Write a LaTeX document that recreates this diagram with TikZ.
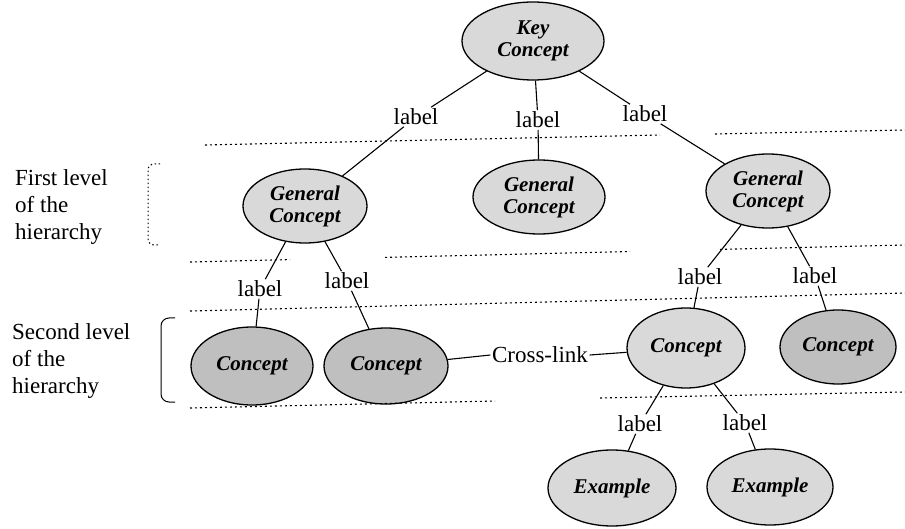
\documentclass[tikz,border=0pt]{standalone}
\usepackage{fontspec}
\setmainfont{Liberation Serif}
\usetikzlibrary{shapes.geometric}
\begin{document}
\begin{tikzpicture}[x=1pt,y=-1pt,
  concept/.style={ellipse,draw=black,line width=1.3pt,fill=gray!30,inner sep=0pt,align=center,font=\fontsize{21}{22}\selectfont\bfseries\itshape},
  darkc/.style={concept,fill=gray!50},
  lbl/.style={inner sep=1.5pt,font=\fontsize{23}{26}\selectfont},
  link/.style={line width=1.1pt},
  level/.style={dash pattern=on 2pt off 3pt,line width=1.1pt},
  side/.style={align=left,anchor=west,inner sep=0pt,font=\fontsize{23}{27}\selectfont}]
\useasboundingbox (0,0) rectangle (905,529);

% concept ellipses
\node[concept,minimum width=142,minimum height=78] (key) at (533,41) {Key\\Concept};
\node[concept,minimum width=124,minimum height=74] (g1) at (305,206) {General\\Concept};
\node[concept,minimum width=132,minimum height=74] (g2) at (539,197) {General\\Concept};
\node[concept,minimum width=124,minimum height=74] (g3) at (768,191) {General\\Concept};
\node[darkc,minimum width=122,minimum height=78] (c1) at (252,366) {Concept};
\node[darkc,minimum width=124,minimum height=76] (c2) at (386,366) {Concept};
\node[concept,minimum width=118,minimum height=80] (c3) at (686,348) {Concept};
\node[darkc,minimum width=116,minimum height=74] (c4) at (838,347) {Concept};
\node[concept,minimum width=128,minimum height=76] (e1) at (612,488) {Example};
\node[concept,minimum width=126,minimum height=76] (e2) at (770,487) {Example};

% link labels
\node[lbl] (l1) at (416,117) {label};
\node[lbl] (l2) at (538,120) {label};
\node[lbl] (l3) at (645,114) {label};
\node[lbl] (l4) at (260,289) {label};
\node[lbl] (l5) at (347,281) {label};
\node[lbl] (l6) at (700,277) {label};
\node[lbl] (l7) at (815,276) {label};
\node[lbl] (l8) at (640,424) {label};
\node[lbl] (l9) at (745,423) {label};
\node[lbl] (xl) at (540,355) {Cross-link};

% connectors
\draw[link] (key) -- (l1);
\draw[link] (key) -- (l2);
\draw[link] (key) -- (l3);
\draw[link] (l1) -- (g1);
\draw[link] (l2) -- (g2);
\draw[link] (l3) -- (g3);
\draw[link] (g1) -- (l4);
\draw[link] (g1) -- (l5);
\draw[link] (l4) -- (c1);
\draw[link] (l5) -- (c2);
\draw[link] (g3) -- (l6);
\draw[link] (g3) -- (l7);
\draw[link] (l6) -- (c3);
\draw[link] (l7) -- (c4);
\draw[link] (c3) -- (l8);
\draw[link] (c3) -- (l9);
\draw[link] (l8) -- (e1);
\draw[link] (l9) -- (e2);
\draw[link] (xl.west) -- (c2);
\draw[link] (xl.east) -- (c3);

% level separators
\draw[level] (205,145) -- (660,135);
\draw[level] (715,134) -- (905,130);
\draw[level] (190,262) -- (290,259.6);
\draw[level] (385,257.4) -- (630,251.5);
\draw[level] (720,249.4) -- (905,245);
\draw[level] (190,311) -- (905,293);
\draw[level] (190,408) -- (495,401);
\draw[level] (600,398) -- (905,392);

% brackets
\draw[dash pattern=on 1.5pt off 2.5pt,line width=1pt,rounded corners=6] (160,164) -- (148,164) -- (148,245) -- (160,245);
\draw[line width=1pt,rounded corners=8] (175,318) -- (161,318) -- (161,402) -- (175,402);

% side captions
\node[side] (s1) at (15,207) {First level\\of the\\hierarchy};
\node[side] (s2) at (12,361) {Second level\\of the\\hierarchy};
\end{tikzpicture}
\end{document}
